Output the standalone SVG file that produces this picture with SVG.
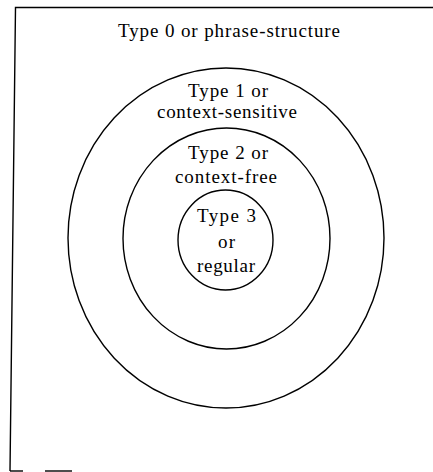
<svg xmlns="http://www.w3.org/2000/svg" width="433" height="472" viewBox="0 0 433 472">
  <style>
    .ring { fill: none; stroke: #000; stroke-width: 1.4; }
    .frame { fill: none; stroke: #000; stroke-width: 1.4; }
    .lbl { font-family: "Liberation Serif", "Times New Roman", serif; font-size: 19px; fill: #000; text-anchor: middle; }
  </style>
  <rect width="433" height="472" fill="#fff"/>
  <g id="frame">
    <polyline class="frame" points="10,471 15.5,7.5 433,7.5"/>
    <line class="frame" x1="10" y1="471" x2="23" y2="471"/>
    <line class="frame" x1="45" y1="471" x2="72" y2="471"/>
  </g>
  <g id="type0">
    <text class="lbl" x="229" y="37" textLength="222">Type 0 or phrase-structure</text>
  </g>
  <g id="type1">
    <ellipse class="ring" cx="226" cy="238" rx="158" ry="170"/>
    <text class="lbl" x="228" y="97" textLength="80">Type 1 or</text>
    <text class="lbl" x="227" y="118" textLength="140">context-sensitive</text>
  </g>
  <g id="type2">
    <ellipse class="ring" cx="226.5" cy="238.5" rx="103.5" ry="110.5"/>
    <text class="lbl" x="228" y="159" textLength="80">Type 2 or</text>
    <text class="lbl" x="226" y="183" textLength="102">context-free</text>
  </g>
  <g id="type3">
    <ellipse class="ring" cx="225.5" cy="240" rx="47.5" ry="50"/>
    <text class="lbl" x="226.5" y="222" textLength="59">Type 3</text>
    <text class="lbl" x="226.5" y="248" textLength="17">or</text>
    <text class="lbl" x="226" y="272" textLength="58">regular</text>
  </g>
  <g id="connectors"></g>
</svg>
